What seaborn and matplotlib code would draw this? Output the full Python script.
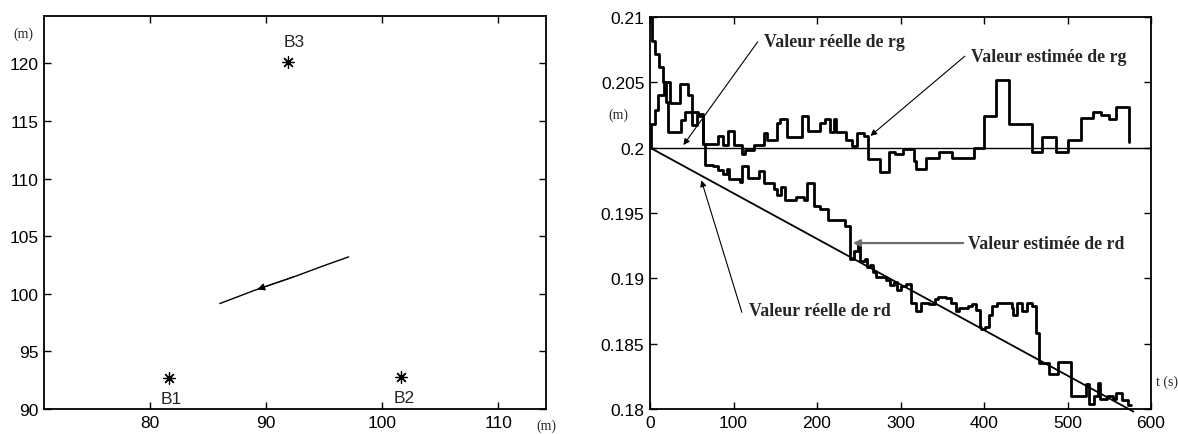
import matplotlib
matplotlib.use("Agg")
import matplotlib.pyplot as plt
import seaborn as sns
import pandas as pd

# ---------------- data ----------------
# left panel: beacons and trajectory (m)
beacon_names = ["B1", "B2", "B3"]
beacon_x = [81.6, 101.6, 91.9]
beacon_y = [92.7, 92.75, 120.1]
traj_x = [97.1, 95.0, 92.6, 89.0, 86.0]
traj_y = [103.2, 102.45, 101.55, 100.3, 99.15]

# right panel: estimated / real radii (m) vs time (s)
rg_est_t = [0, 1.5, 6, 10, 17, 24, 36, 45, 50, 58, 64, 82, 87, 94, 101, 110, 114, 125, 136, 140,
            152, 156, 164, 182, 189, 203, 209, 215, 220, 223, 235, 242, 248, 256, 261, 275, 286,
            294, 303, 316, 318, 330, 346, 362, 388, 400, 414, 430, 458, 470, 486, 500, 516, 530,
            540, 550, 558, 574]
rg_est_v = [0.2000, 0.2018, 0.2029, 0.2040, 0.2050, 0.2034, 0.2049, 0.2040, 0.2027, 0.2024,
            0.2003, 0.2009, 0.2002, 0.2013, 0.2002, 0.1995, 0.1998, 0.2002, 0.2011, 0.2006,
            0.2019, 0.2022, 0.2008, 0.2024, 0.2013, 0.2019, 0.2022, 0.2012, 0.2022, 0.2012,
            0.2006, 0.2001, 0.2011, 0.2009, 0.1991, 0.1981, 0.1997, 0.1995, 0.1999, 0.1990,
            0.1984, 0.1992, 0.1997, 0.1992, 0.2000, 0.2024, 0.2052, 0.2018, 0.1997, 0.2008,
            0.1997, 0.2006, 0.2023, 0.2027, 0.2025, 0.2022, 0.2031, 0.2004]

rd_est_t = [0, 2, 6, 11, 16, 19, 22, 37, 42, 50, 56, 63, 66, 76, 81, 87.5, 92, 95, 108, 110,
            117, 130, 137, 148, 152.5, 157, 162, 175, 184, 188, 197, 204, 213, 233, 240, 244,
            249, 252, 258, 260, 264, 267, 271, 283, 287, 292, 296, 301, 307, 312, 318, 325,
            334, 341, 345, 354, 361, 366, 370, 381, 386, 390, 395, 397, 401, 406, 410, 415,
            433, 435, 440, 446, 451, 458, 462, 466, 478, 489, 504, 522, 526, 532, 536, 539,
            547, 554, 558, 565, 572, 576]
rd_est_v = [0.2100, 0.2082, 0.2072, 0.2062, 0.2050, 0.2035, 0.2012, 0.2021, 0.2027, 0.2017,
            0.2026, 0.2003, 0.1987, 0.1986, 0.1983, 0.1980, 0.1984, 0.1976, 0.1974, 0.1986,
            0.1977, 0.1982, 0.1973, 0.1968, 0.1964, 0.1970, 0.1960, 0.1962, 0.1960, 0.1973,
            0.1955, 0.1953, 0.1945, 0.1940, 0.1915, 0.1921, 0.1926, 0.1913, 0.1915, 0.1909,
            0.1910, 0.1905, 0.1901, 0.1899, 0.1895, 0.1897, 0.1891, 0.1894, 0.1896, 0.1881,
            0.1875, 0.1881, 0.1880, 0.1884, 0.1886, 0.1885, 0.1881, 0.1875, 0.1877, 0.1879,
            0.1880, 0.1876, 0.1863, 0.1861, 0.1863, 0.1872, 0.1879, 0.1881, 0.1877, 0.1872,
            0.1881, 0.1875, 0.1881, 0.1879, 0.1858, 0.1835, 0.1827, 0.1836, 0.1810, 0.1819,
            0.1804, 0.1810, 0.1820, 0.1808, 0.1810, 0.1808, 0.1812, 0.1807, 0.1803, 0.1803]

rg_real_t = [0, 600]
rg_real_v = [0.2, 0.2]
rd_real_t = [0, 579]
rd_real_v = [0.2, 0.1798]

x_ticks_left = [80, 90, 100, 110]
y_ticks_left = [90, 95, 100, 105, 110, 115, 120]
x_ticks_right = [0, 100, 200, 300, 400, 500, 600]
y_ticks_right = [0.18, 0.185, 0.19, 0.195, 0.2, 0.205, 0.21]

# ---------------- style ----------------
sns.set_theme(style="ticks")
plt.rcParams["font.family"] = ["Liberation Sans", "DejaVu Sans"]
SERIF = ["Liberation Serif", "DejaVu Serif"]

fig = plt.figure(figsize=(11.78, 4.35), dpi=100)
ax1 = fig.add_axes([44 / 1178, 25 / 435, 502 / 1178, 393 / 435])
ax2 = fig.add_axes([650 / 1178, 25 / 435, 501 / 1178, 392 / 435])

for ax in (ax1, ax2):
    for s in ax.spines.values():
        s.set_visible(True)
        s.set_linewidth(1.3)
        s.set_color("black")
    ax.tick_params(direction="in", top=True, right=True, length=5, width=1,
                   labelsize=12.5, colors="black", pad=4)
    ax.set_facecolor("white")

# ---------------- left panel ----------------
df_b = pd.DataFrame({"x": beacon_x, "y": beacon_y, "name": beacon_names})
sns.scatterplot(data=df_b, x="x", y="y", ax=ax1, marker=(8, 2, 0), s=70,
                color="black", edgecolor="black", linewidth=0.9, legend=False, zorder=3)
label_off = {"B1": (0.25, -1.75), "B2": (0.3, -1.75), "B3": (0.5, 1.8)}
for n, bx, by in zip(beacon_names, beacon_x, beacon_y):
    dx, dy = label_off[n]
    ax1.text(bx + dx, by + dy, n, ha="center", va="center", fontsize=12.5)

df_t = pd.DataFrame({"x": traj_x, "y": traj_y})
sns.lineplot(data=df_t, x="x", y="y", ax=ax1, sort=False, estimator=None,
             color="black", linewidth=1.0)
ax1.annotate("", xy=(traj_x[3], traj_y[3]), xytext=(traj_x[2], traj_y[2]),
             arrowprops=dict(arrowstyle="-|>", color="black", lw=0.8, mutation_scale=11))

ax1.set_xlim(70.85, 114.1)
ax1.set_ylim(90, 124.1)
ax1.set_xticks(x_ticks_left)
ax1.set_yticks(y_ticks_left)
ax1.set_xlabel("")
ax1.set_ylabel("")
ax1.text(-0.042, 0.955, "(m)", transform=ax1.transAxes, ha="center", va="center",
         fontsize=10, family=SERIF)
ax1.text(1.0, -0.025, "(m)", transform=ax1.transAxes, ha="center", va="top",
         fontsize=10, family=SERIF)

# ---------------- right panel ----------------
sns.lineplot(x=rg_real_t, y=rg_real_v, ax=ax2, color="black", linewidth=1.0, estimator=None)
sns.lineplot(x=rd_real_t, y=rd_real_v, ax=ax2, color="black", linewidth=1.3, estimator=None,
             clip_on=False)
sns.lineplot(x=rg_est_t, y=rg_est_v, ax=ax2, color="black", linewidth=2.0, estimator=None,
             drawstyle="steps-post")
sns.lineplot(x=rd_est_t, y=rd_est_v, ax=ax2, color="black", linewidth=2.0, estimator=None,
             drawstyle="steps-post")

ax2.set_xlim(0, 600)
ax2.set_ylim(0.18, 0.21)
ax2.set_xticks(x_ticks_right)
ax2.set_yticks(y_ticks_right)
ax2.set_yticklabels(["%g" % v for v in y_ticks_right])
ax2.set_xlabel("")
ax2.set_ylabel("")

ann_font = dict(fontsize=12.8, fontweight="bold", family=SERIF, va="center", ha="left")
thin = dict(arrowstyle="-|>", color="black", lw=0.8, mutation_scale=9, shrinkA=0, shrinkB=0)
ax2.annotate("", xy=(40, 0.2002), xytext=(129, 0.2081), arrowprops=thin)
ax2.text(137, 0.2081, "Valeur réelle de rg", **ann_font)
ax2.annotate("", xy=(264, 0.2009), xytext=(377, 0.2070), arrowprops=thin)
ax2.text(384, 0.2070, "Valeur estimée de rg", **ann_font)
ax2.annotate("", xy=(243, 0.1927), xytext=(375, 0.1927),
             arrowprops=dict(arrowstyle="-|>", color="#6e6e6e", lw=1.6, mutation_scale=10,
                             shrinkA=0, shrinkB=0))
ax2.text(381, 0.1927, "Valeur estimée de rd", **ann_font)
ax2.annotate("", xy=(61.5, 0.1975), xytext=(110, 0.1874), arrowprops=thin)
ax2.text(119, 0.1875, "Valeur réelle de rd", **ann_font)

ax2.text(-0.064, 0.752, "(m)", transform=ax2.transAxes, ha="center", va="center",
         fontsize=10, family=SERIF)
ax2.text(1.01, 0.07, "t (s)", transform=ax2.transAxes, ha="left", va="center",
         fontsize=10, family=SERIF)

fig.savefig("out.png", dpi=100, facecolor="white")
